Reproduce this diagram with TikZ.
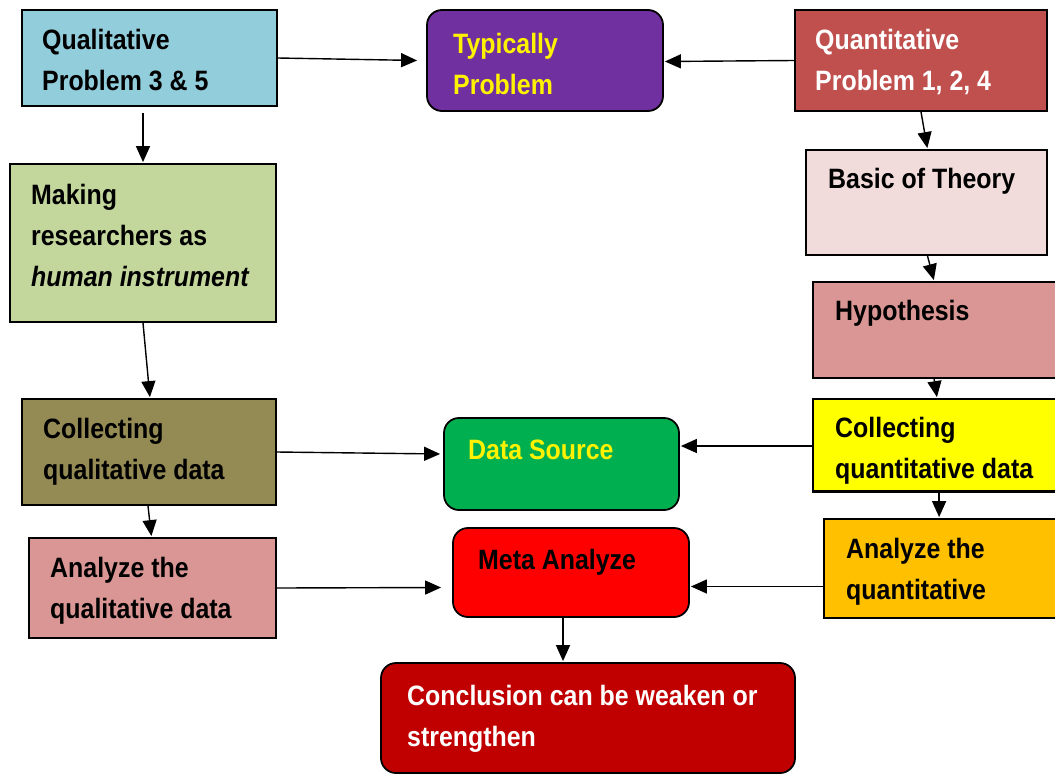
\documentclass[tikz,border=0pt]{standalone}
\usepackage{fontspec}
\setmainfont{Liberation Sans}[FakeStretch=0.89]
\usetikzlibrary{arrows.meta,fit,calc}
\definecolor{cQual}{HTML}{92CDDC}
\definecolor{cTyp}{HTML}{7030A0}
\definecolor{cQuant}{HTML}{C0504D}
\definecolor{cMak}{HTML}{C3D69B}
\definecolor{cBas}{HTML}{F2DCDB}
\definecolor{cHyp}{HTML}{D99694}
\definecolor{cCql}{HTML}{948A54}
\definecolor{cDS}{HTML}{00B050}
\definecolor{cCqt}{HTML}{FFFF00}
\definecolor{cMeta}{HTML}{FF0000}
\definecolor{cAqt}{HTML}{FFC000}
\definecolor{cCon}{HTML}{C00000}
\tikzset{
  box/.style={draw=black, line width=1.8pt, inner sep=0pt},
  rbox/.style={box, rounded corners=15pt},
  txt/.style={anchor=north west, inner sep=0pt, align=left,
    font=\fontsize{28}{41}\selectfont\bfseries},
  conn/.style={line width=1.4pt, -{Triangle[length=16pt,width=14pt]}, shorten >=1pt},
}
\begin{document}
\begin{tikzpicture}[x=1pt,y=-1pt]
\useasboundingbox (0,0) rectangle (1055,774);
\clip (0,0) rectangle (1055,774);
% boxes
\node[box, fill=cQual, fit={(22,10)(277,106)}] (qual) {};
\node[rbox, fill=cTyp, fit={(427,10)(663,111)}] (typ) {};
\node[box, fill=cQuant, fit={(795,10)(1047,111)}] (quant) {};
\node[box, fill=cMak, fit={(10,164)(276,322)}] (mak) {};
\node[box, fill=cBas, fit={(806,150)(1047,255)}] (bas) {};
\node[box, fill=cHyp, fit={(813,282)(1070,378)}] (hyp) {};
\node[box, fill=cCql, fit={(22,399)(276,505)}] (cql) {};
\node[rbox, fill=cDS, fit={(444,418)(679,510)}] (ds) {};
\node[box, fill=cCqt, fit={(813,399)(1070,491)}] (cqt) {};
\node[box, fill=cHyp, fit={(29,538)(276,638)}] (anq) {};
\node[rbox, fill=cMeta, fit={(453,528)(689,617)}] (meta) {};
\node[box, fill=cAqt, fit={(824,519)(1070,618)}] (aqt) {};
\node[rbox, fill=cCon, fit={(381,663)(795,773)}] (con) {};
% texts
\node[txt] (tqual) at (42,29) {Qualitative\\Problem 3 \& 5};
\node[txt, text=yellow] (ttyp) at (453,33) {Typically\\Problem};
\node[txt, text=white] (tquant) at (815,29) {Quantitative\\Problem 1, 2, 4};
\node[txt] (tmak) at (31,184) {Making\\researchers as\\\textit{human instrument}};
\node[txt] (tbas) at (828,168) {Basic of Theory};
\node[txt] (thyp) at (835,300) {Hypothesis};
\node[txt] (tcql) at (43,418) {Collecting\\qualitative data};
\node[txt, text=yellow] (tds) at (468,440) {Data Source};
\node[txt] (tcqt) at (835,417) {Collecting\\quantitative data};
\node[txt] (tanq) at (50,557) {Analyze the\\qualitative data};
\node[txt] (tmeta) at (478,549) {Meta Analyze};
\node[txt] (taqt) at (846,538) {Analyze the\\quantitative};
\node[txt, text=white] (tcon) at (407,685) {Conclusion can be weaken or\\strengthen};
% re-draw bottom border of cqt over clipped text
\draw[line width=1.8pt] (cqt.south west) -- (cqt.south east);
% connectors
\draw[conn] ($(qual.east)+(0,0)$) -- ($(typ.west)+(-8,0)$);
\draw[conn] ($(quant.west)+(0,0)$) -- ($(typ.east)+(0,1)$);
\draw[conn, shorten <=6pt] (qual.south -| mak.north) -- (mak.north);
\draw[conn] (quant.south) -- ($(bas.north)+(1,0)$);
\draw[conn] ($(bas.south)+(1,0)$) -- ($(hyp.north west)+(122,0)$);
\draw[conn] (mak.south) -- ($(cql.north)+(1,0)$);
\draw[conn] ($(hyp.south west)+(122,0)$) -- ($(cqt.north west)+(125,0)$);
\draw[conn] (cql.east) -- ($(ds.west)+(-2,-10)$);
\draw[conn] ($(cqt.west)+(0,1)$) -- ($(ds.east)+(0,-18)$);
\draw[conn] ($(cql.south)+(-1,0)$) -- ($(anq.north)+(-1,0)$);
\draw[conn] ($(cqt.south west)+(127,0)$) -- ($(aqt.north west)+(116,0)$);
\draw[conn] ($(anq.east)+(0,0)$) -- ($(meta.west)+(-10,15)$);
\draw[conn] ($(aqt.west)+(0,18)$) -- ($(meta.east)+(0,14)$);
\draw[conn] ($(meta.south)+(-8,0)$) -- ($(con.north)+(-25,0)$);
\end{tikzpicture}
\end{document}
